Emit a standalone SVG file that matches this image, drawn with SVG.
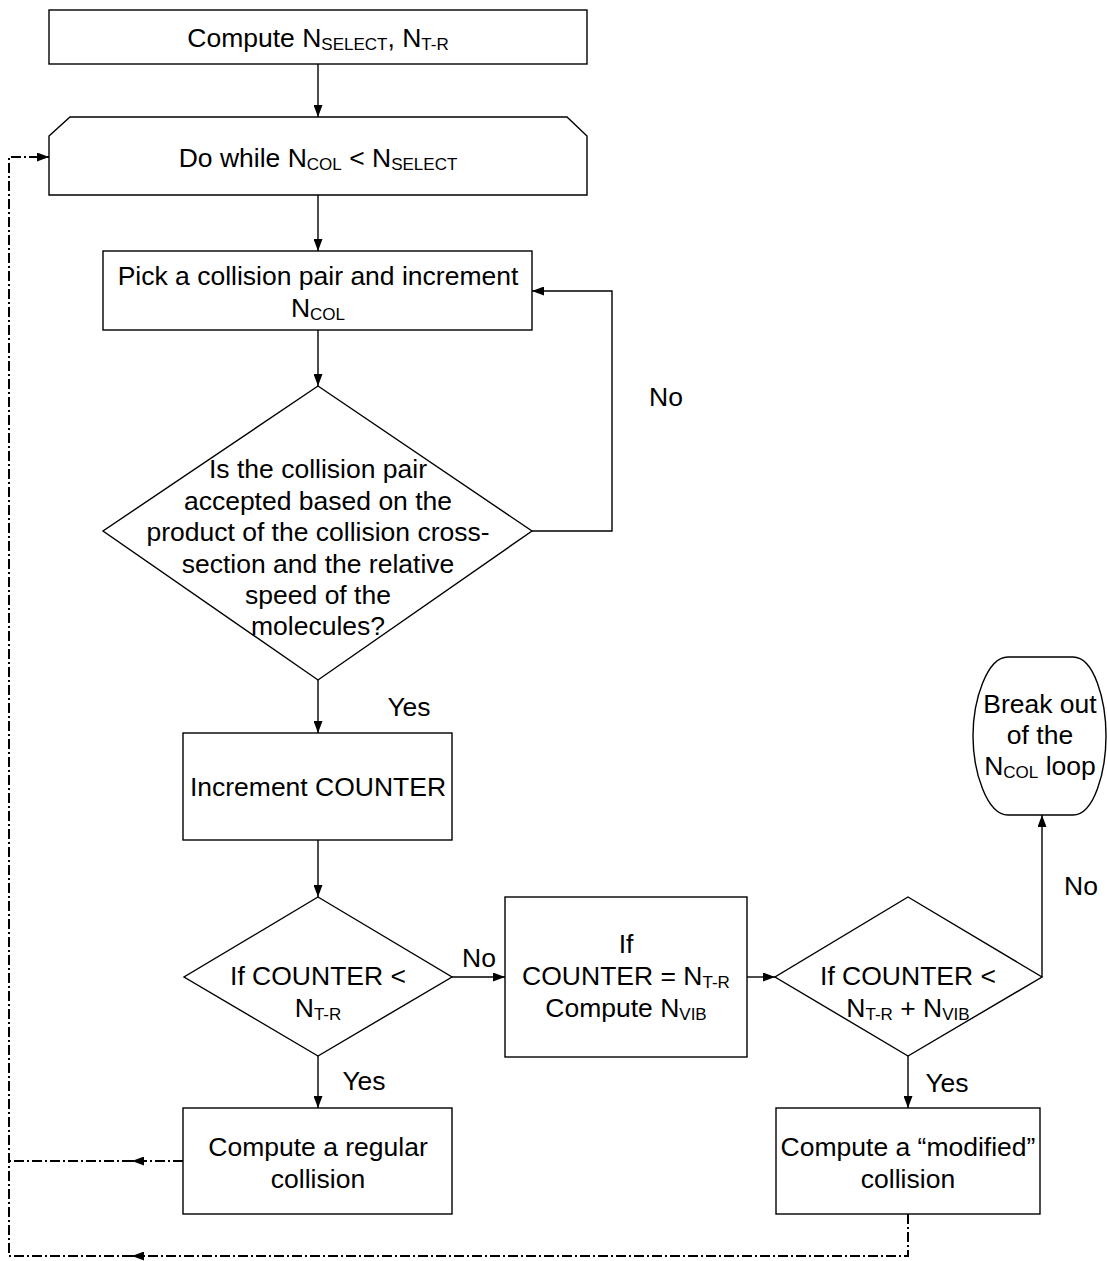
<svg xmlns="http://www.w3.org/2000/svg" width="1107" height="1261" viewBox="0 0 1107 1261">
<defs>
<style>
.shape{fill:#fff;stroke:#000;stroke-width:1.4}
.c{fill:none;stroke:#000;stroke-width:1.4}
.dd{fill:none;stroke:#000;stroke-width:2;stroke-dasharray:10,3,2,3}
.t{font-family:"Liberation Sans",Arial,sans-serif;font-size:26.5px;text-anchor:middle;fill:#000}
.s{font-size:17px}
</style>
<marker id="ah" viewBox="0 0 12 9" refX="12" refY="4.5" markerWidth="12" markerHeight="9" markerUnits="userSpaceOnUse" orient="auto">
<path d="M0,0 L12,4.5 L0,9 Z" fill="#000"/>
</marker>
</defs>
<rect width="1107" height="1261" fill="#fff"/>

<g id="connectors">
<path class="c" d="M318,64 V117" marker-end="url(#ah)"/>
<path class="c" d="M318,195 V251" marker-end="url(#ah)"/>
<path class="c" d="M318,330 V386" marker-end="url(#ah)"/>
<path class="c" d="M532,531 H612 V291 H532" marker-end="url(#ah)"/>
<path class="c" d="M318,680 V733" marker-end="url(#ah)"/>
<path class="c" d="M318,840 V897" marker-end="url(#ah)"/>
<path class="c" d="M452,977 H505" marker-end="url(#ah)"/>
<path class="c" d="M747,977 H775" marker-end="url(#ah)"/>
<path class="c" d="M1042,977 V815" marker-end="url(#ah)"/>
<path class="c" d="M318,1056 V1108" marker-end="url(#ah)"/>
<path class="c" d="M908,1056 V1108" marker-end="url(#ah)"/>
<path class="dd" d="M183,1161 H132" marker-end="url(#ah)"/>
<path class="dd" d="M132,1161 H9"/>
<path class="dd" d="M908,1214 V1256 H132" marker-end="url(#ah)"/>
<path class="dd" d="M132,1256 H9 V157 H49" marker-end="url(#ah)"/>
<text class="t" x="666" y="406">No</text>
<text class="t" x="409" y="716">Yes</text>
<text class="t" x="479" y="967">No</text>
<text class="t" x="1081" y="895">No</text>
<text class="t" x="364" y="1090">Yes</text>
<text class="t" x="947" y="1092">Yes</text>
</g>

<g id="compute-nselect">
<rect class="shape" x="49" y="10" width="538" height="54"/>
<text class="t" x="318" y="47">Compute N<tspan class="s" dy="3">SELECT</tspan><tspan dy="-3">, N</tspan><tspan class="s" dy="3">T-R</tspan></text>
</g>

<g id="do-while">
<path class="shape" d="M49,136 L70,117 L567,117 L587,136 L587,195 L49,195 Z"/>
<text class="t" x="318" y="167">Do while N<tspan class="s" dy="3">COL</tspan><tspan dy="-3"> &lt; N</tspan><tspan class="s" dy="3">SELECT</tspan></text>
</g>

<g id="pick-pair">
<rect class="shape" x="103" y="251" width="429" height="79"/>
<text class="t" x="318" y="285">Pick a collision pair and increment</text>
<text class="t" x="318" y="317">N<tspan class="s" dy="3">COL</tspan></text>
</g>

<g id="accept-decision">
<path class="shape" d="M318,386 L532,531 L318,680 L103,531 Z"/>
<text class="t" x="318" y="478">Is the collision pair</text>
<text class="t" x="318" y="510">accepted based on the</text>
<text class="t" x="318" y="541">product of the collision cross-</text>
<text class="t" x="318" y="573">section and the relative</text>
<text class="t" x="318" y="604">speed of the</text>
<text class="t" x="318" y="635">molecules?</text>
</g>

<g id="increment-counter">
<rect class="shape" x="183" y="733" width="269" height="107"/>
<text class="t" x="318" y="796">Increment COUNTER</text>
</g>

<g id="counter-ntr-decision">
<path class="shape" d="M318,897 L452,977 L318,1056 L184,977 Z"/>
<text class="t" x="318" y="985">If COUNTER &lt;</text>
<text class="t" x="318" y="1017">N<tspan class="s" dy="3">T-R</tspan></text>
</g>

<g id="compute-nvib">
<rect class="shape" x="505" y="897" width="242" height="160"/>
<text class="t" x="626" y="953">If</text>
<text class="t" x="626" y="985">COUNTER = N<tspan class="s" dy="3">T-R</tspan></text>
<text class="t" x="626" y="1017">Compute N<tspan class="s" dy="3">VIB</tspan></text>
</g>

<g id="counter-nvib-decision">
<path class="shape" d="M908,897 L1042,977 L908,1056 L775,977 Z"/>
<text class="t" x="908" y="985">If COUNTER &lt;</text>
<text class="t" x="908" y="1017">N<tspan class="s" dy="3">T-R</tspan><tspan dy="-3"> + N</tspan><tspan class="s" dy="3">VIB</tspan></text>
</g>

<g id="break-out">
<path class="shape" d="M1008,657 H1073 C1094,657 1106,700 1106,736 C1106,772 1094,815 1073,815 H1008 C987,815 973,772 973,736 C973,700 987,657 1008,657 Z"/>
<text class="t" x="1040" y="713">Break out</text>
<text class="t" x="1040" y="744">of the</text>
<text class="t" x="1040" y="775">N<tspan class="s" dy="3">COL</tspan><tspan dy="-3"> loop</tspan></text>
</g>

<g id="regular-collision">
<rect class="shape" x="183" y="1108" width="269" height="106"/>
<text class="t" x="318" y="1156">Compute a regular</text>
<text class="t" x="318" y="1188">collision</text>
</g>

<g id="modified-collision">
<rect class="shape" x="776" y="1108" width="264" height="106"/>
<text class="t" x="908" y="1156">Compute a “modified”</text>
<text class="t" x="908" y="1188">collision</text>
</g>
</svg>
